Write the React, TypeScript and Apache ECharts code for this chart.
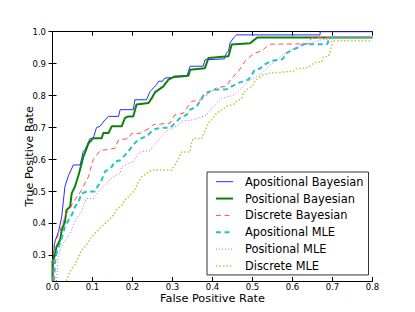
import React, { useEffect, useRef } from "react";
import * as echarts from "echarts";

const seriesNames = [
  "Apositional Bayesian",
  "Positional Bayesian",
  "Discrete Bayesian",
  "Apositional MLE",
  "Positional MLE",
  "Discrete MLE",
];

const xTicks = [0, 0.1, 0.2, 0.3, 0.4, 0.5, 0.6, 0.7, 0.8];
const yTicks = [0.3, 0.4, 0.5, 0.6, 0.7, 0.8, 0.9, 1.0];

const aposBayes = [
  [0, 0.22], [0.003, 0.3], [0.005, 0.34], [0.015, 0.374], [0.023, 0.42], [0.027, 0.468],
  [0.031, 0.515], [0.04, 0.55], [0.052, 0.583], [0.069, 0.583], [0.073, 0.604], [0.077, 0.626],
  [0.081, 0.63], [0.094, 0.666], [0.102, 0.667], [0.11, 0.7], [0.119, 0.704], [0.131, 0.724],
  [0.14, 0.735], [0.165, 0.735], [0.169, 0.756], [0.202, 0.756], [0.206, 0.787], [0.235, 0.787],
  [0.244, 0.813], [0.26, 0.834], [0.265, 0.845], [0.275, 0.845], [0.281, 0.855], [0.335, 0.86],
  [0.34, 0.876], [0.344, 0.892], [0.377, 0.892], [0.381, 0.912], [0.43, 0.915], [0.435, 0.933],
  [0.44, 0.94], [0.444, 0.965], [0.452, 0.98], [0.46, 0.99], [0.669, 0.99], [0.669, 1.0], [0.8, 1.0],
];

const posBayes = [
  [0, 0.22], [0, 0.28], [0.006, 0.3], [0.01, 0.327], [0.019, 0.348], [0.023, 0.379], [0.031, 0.405],
  [0.035, 0.442], [0.044, 0.452], [0.048, 0.494], [0.056, 0.515], [0.065, 0.551], [0.073, 0.588],
  [0.077, 0.609], [0.081, 0.62], [0.09, 0.651], [0.102, 0.667], [0.123, 0.667], [0.127, 0.683],
  [0.14, 0.683], [0.148, 0.704], [0.173, 0.704], [0.181, 0.73], [0.19, 0.735], [0.202, 0.735],
  [0.21, 0.772], [0.24, 0.777], [0.248, 0.792], [0.256, 0.81], [0.277, 0.829], [0.29, 0.85],
  [0.306, 0.86], [0.34, 0.862], [0.344, 0.881], [0.381, 0.886], [0.39, 0.918], [0.44, 0.923],
  [0.448, 0.96], [0.494, 0.964], [0.502, 0.972], [0.512, 0.982], [0.8, 0.982],
];

const discBayes = [
  [0, 0.22], [0.002, 0.3], [0.004, 0.332], [0.019, 0.379], [0.027, 0.405], [0.035, 0.432],
  [0.044, 0.447], [0.052, 0.468], [0.065, 0.489], [0.073, 0.505], [0.081, 0.526], [0.09, 0.546],
  [0.094, 0.567], [0.102, 0.6], [0.119, 0.628], [0.156, 0.635], [0.165, 0.661], [0.19, 0.666],
  [0.198, 0.682], [0.219, 0.682], [0.227, 0.688], [0.244, 0.699], [0.252, 0.709], [0.269, 0.711],
  [0.294, 0.714], [0.306, 0.74], [0.327, 0.745], [0.348, 0.782], [0.373, 0.787], [0.39, 0.808],
  [0.41, 0.824], [0.435, 0.83], [0.448, 0.855], [0.465, 0.876], [0.481, 0.907], [0.494, 0.922],
  [0.506, 0.933], [0.523, 0.94], [0.535, 0.953], [0.544, 0.961], [0.64, 0.962], [0.644, 0.974],
  [0.648, 0.982], [0.8, 0.982],
];

const aposMle = [
  [0.004, 0.22], [0.006, 0.275], [0.01, 0.306], [0.023, 0.353], [0.031, 0.39], [0.04, 0.41],
  [0.048, 0.426], [0.056, 0.452], [0.065, 0.468], [0.073, 0.494], [0.085, 0.5], [0.106, 0.5],
  [0.115, 0.52], [0.123, 0.536], [0.131, 0.562], [0.148, 0.577], [0.156, 0.593], [0.169, 0.598],
  [0.181, 0.614], [0.19, 0.626], [0.202, 0.646], [0.21, 0.657], [0.223, 0.667], [0.235, 0.673],
  [0.248, 0.688], [0.256, 0.695], [0.269, 0.699], [0.295, 0.7], [0.306, 0.714], [0.319, 0.73],
  [0.335, 0.74], [0.344, 0.756], [0.36, 0.765], [0.373, 0.792], [0.381, 0.808], [0.406, 0.818],
  [0.435, 0.82], [0.448, 0.829], [0.465, 0.84], [0.49, 0.85], [0.498, 0.865], [0.506, 0.881],
  [0.519, 0.885], [0.531, 0.898], [0.548, 0.909], [0.575, 0.914], [0.585, 0.932], [0.598, 0.943],
  [0.615, 0.951], [0.627, 0.961], [0.687, 0.961], [0.69, 0.972], [0.698, 0.982], [0.8, 0.982],
];

const posMle = [
  [0.01, 0.22], [0.015, 0.296], [0.019, 0.317], [0.027, 0.338], [0.035, 0.353], [0.044, 0.369],
  [0.052, 0.395], [0.06, 0.416], [0.073, 0.437], [0.081, 0.468], [0.085, 0.478], [0.102, 0.478],
  [0.115, 0.5], [0.127, 0.515], [0.14, 0.531], [0.152, 0.546], [0.169, 0.557], [0.173, 0.577],
  [0.19, 0.588], [0.202, 0.593], [0.21, 0.609], [0.215, 0.62], [0.223, 0.625], [0.244, 0.628],
  [0.252, 0.641], [0.258, 0.65], [0.265, 0.662], [0.277, 0.678], [0.29, 0.693], [0.31, 0.704],
  [0.323, 0.72], [0.356, 0.725], [0.385, 0.74], [0.398, 0.761], [0.41, 0.777], [0.423, 0.792],
  [0.45, 0.8], [0.46, 0.808], [0.473, 0.824], [0.485, 0.84], [0.498, 0.852], [0.51, 0.86],
  [0.523, 0.87], [0.544, 0.896], [0.556, 0.906], [0.581, 0.932], [0.598, 0.943], [0.615, 0.953],
  [0.627, 0.958], [0.66, 0.97], [0.673, 0.975], [0.698, 0.977], [0.7, 0.982], [0.8, 0.982],
];

const discMle = [
  [0.035, 0.22], [0.04, 0.238], [0.048, 0.259], [0.056, 0.27], [0.065, 0.296], [0.073, 0.317],
  [0.081, 0.327], [0.09, 0.343], [0.098, 0.358], [0.11, 0.374], [0.127, 0.395], [0.14, 0.41],
  [0.152, 0.426], [0.16, 0.442], [0.173, 0.457], [0.181, 0.473], [0.194, 0.489], [0.206, 0.505],
  [0.215, 0.531], [0.223, 0.546], [0.235, 0.557], [0.248, 0.567], [0.298, 0.567], [0.306, 0.583],
  [0.315, 0.604], [0.323, 0.624], [0.344, 0.624], [0.348, 0.655], [0.352, 0.666], [0.373, 0.666],
  [0.381, 0.69], [0.39, 0.715], [0.402, 0.73], [0.41, 0.745], [0.423, 0.756], [0.435, 0.766],
  [0.452, 0.772], [0.46, 0.782], [0.473, 0.792], [0.477, 0.808], [0.485, 0.818], [0.498, 0.829],
  [0.506, 0.845], [0.515, 0.855], [0.527, 0.865], [0.548, 0.871], [0.602, 0.876], [0.61, 0.884],
  [0.64, 0.888], [0.648, 0.897], [0.656, 0.904], [0.673, 0.906], [0.677, 0.92], [0.69, 0.923],
  [0.694, 0.937], [0.698, 0.958], [0.698, 0.972], [0.8, 0.972],
];

const seriesData = [aposBayes, posBayes, discBayes, aposMle, posMle, discMle];

const styles = [
  { color: "#2a2aff", width: 1, type: "solid" as any },
  { color: "#0c820c", width: 2, type: "solid" as any },
  { color: "#ff4d4d", width: 1, type: [5, 3.5] as any },
  { color: "#22c4c4", width: 2, type: [5, 3.5] as any },
  { color: "#d862d8", width: 1, type: [1, 2] as any },
  { color: "#c4c436", width: 1.5, type: [1.5, 2] as any },
];

const FONT = "DejaVu Sans";

export default function App() {
  const ref = useRef<HTMLDivElement>(null);
  useEffect(() => {
    document.body.style.margin = "0";
    const chart = echarts.init(ref.current!, null, { renderer: "svg" });
    const tickCommon = {
      inside: true,
      length: 4,
      lineStyle: { color: "#000", width: 1 },
    };
    const lineCommon = { show: true, lineStyle: { color: "#000", width: 1 } };
    chart.setOption({
      animation: false,
      backgroundColor: "#fff",
      grid: { left: 52.5, top: 31.7, width: 320, height: 249.3 },
      xAxis: [
        {
          type: "value",
          min: 0,
          max: 0.8,
          interval: 0.1,
          position: "bottom",
          name: "False Positive Rate",
          nameLocation: "middle",
          nameGap: 11.5,
          nameMoveOverlap: false,
          nameTextStyle: { fontFamily: FONT, fontSize: 11.3, color: "#000" },
          axisLine: lineCommon,
          axisTick: tickCommon,
          splitLine: { show: false },
          axisLabel: {
            fontFamily: FONT,
            fontSize: 8.5,
            color: "#000",
            margin: 1.5,
            showMinLabel: true,
            showMaxLabel: true,
            formatter: (v: number) => v.toFixed(1),
          },
        },
        {
          type: "value",
          min: 0,
          max: 0.8,
          interval: 0.1,
          position: "top",
          axisLine: lineCommon,
          axisTick: tickCommon,
          splitLine: { show: false },
          axisLabel: { show: false },
        },
      ],
      yAxis: [
        {
          type: "value",
          min: 0.22,
          max: 1.0,
          position: "left",
          name: "True Positive Rate",
          nameLocation: "middle",
          nameGap: 18,
          nameMoveOverlap: false,
          nameTextStyle: { fontFamily: FONT, fontSize: 11.3, color: "#000" },
          axisLine: lineCommon,
          axisTick: { ...tickCommon, customValues: yTicks },
          splitLine: { show: false },
          axisLabel: {
            fontFamily: FONT,
            fontSize: 8.5,
            color: "#000",
            margin: 6.5,
            customValues: yTicks,
            formatter: (v: number) => v.toFixed(1),
          },
        },
        {
          type: "value",
          min: 0.22,
          max: 1.0,
          position: "right",
          axisLine: lineCommon,
          axisTick: { ...tickCommon, customValues: yTicks },
          splitLine: { show: false },
          axisLabel: { show: false, customValues: yTicks },
        },
      ],
      legend: {
        orient: "vertical",
        left: 207,
        top: 172,
        padding: [3.7, 5, 3, 8],
        itemWidth: 17,
        itemHeight: 12,
        itemGap: 4.85,
        backgroundColor: "#fff",
        borderColor: "#333",
        borderWidth: 1,
        borderRadius: 0,
        selectedMode: false,
        textStyle: {
          fontFamily: FONT,
          fontSize: 11.4,
          lineHeight: 12,
          color: "#000",
          padding: [0, 0, 0, 7],
        },
        data: seriesNames.map((n, i) => ({
          name: n,
          itemStyle: { opacity: 0 },
          lineStyle: {
            color: styles[i].color,
            width: styles[i].width,
            type: styles[i].type,
          },
        })),
      },
      series: seriesNames.map((n, i) => ({
        name: n,
        type: "line",
        xAxisIndex: 0,
        yAxisIndex: 0,
        showSymbol: false,
        symbol: "none",
        data: seriesData[i],
        lineStyle: {
          color: styles[i].color,
          width: styles[i].width,
          type: styles[i].type,
        },
        itemStyle: { color: styles[i].color },
      })),
    });
    return () => chart.dispose();
  }, []);
  return <div ref={ref} style={{ width: 415, height: 312 }} />;
}
